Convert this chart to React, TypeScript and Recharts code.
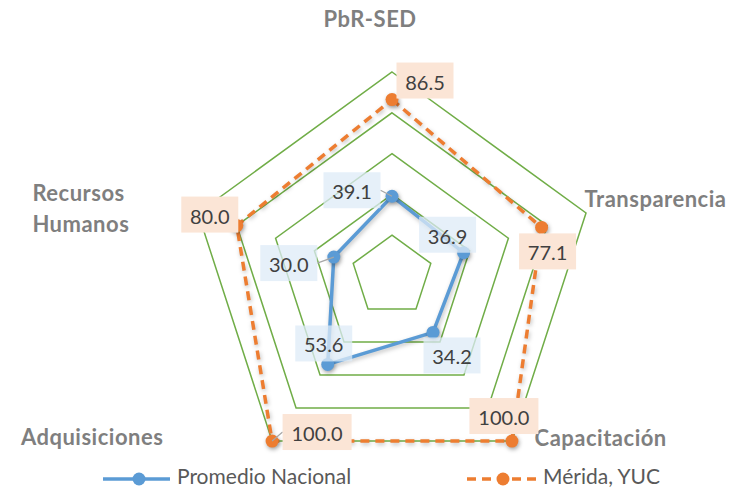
import React from "react";
import {
  RadarChart,
  Radar,
  PolarGrid,
  PolarAngleAxis,
  PolarRadiusAxis,
  LabelList,
  Legend,
} from "recharts";

const categories = ["PbR-SED", "Transparencia", "Capacitación", "Adquisiciones", "Recursos Humanos"];
const promedioNacional = [39.1, 36.9, 34.2, 53.6, 30.0];
const meridaYuc = [86.5, 77.1, 100.0, 100.0, 80.0];

const data = categories.map((name, i) => ({
  name,
  nacional: promedioNacional[i],
  merida: meridaYuc[i],
}));

const BLUE = "#5b9bd5";
const ORANGE = "#ed7d31";
const GRID = "#70ad47";
const FONT = "Lato, 'Open Sans', sans-serif";

// label box offsets relative to the point (by category index)
const NACIONAL_OFFSETS = [
  [-40, -6],
  [-16, -18],
  [19, 23],
  [-4, -21],
  [-45, 6],
];
const MERIDA_OFFSETS = [
  [33, -19],
  [6, 24],
  [-8, -25],
  [45, -9],
  [-27, -11],
];

// axis label placement relative to tick point
const TICK_POS: Record<string, { dx: number; dy: number; anchor: string }> = {
  "PbR-SED": { dx: -22, dy: -46, anchor: "middle" },
  Transparencia: { dx: -9, dy: -12, anchor: "start" },
  "Capacitación": { dx: 18, dy: -11, anchor: "start" },
  Adquisiciones: { dx: -104, dy: -12, anchor: "end" },
  "Recursos Humanos": { dx: -158, dy: -3, anchor: "start" },
};

function AxisTick(props: any) {
  const { x, y, payload } = props;
  const name: string = payload.value;
  const p = TICK_POS[name] ?? { dx: 0, dy: 0, anchor: "middle" };
  const lines = name === "Recursos Humanos" ? ["Recursos", "Humanos"] : [name];
  const lh = 31;
  const y0 = y + p.dy - ((lines.length - 1) * lh) / 2;
  return (
    <text
      textAnchor={p.anchor}
      fill="#7f7f7f"
      fontFamily={FONT}
      fontWeight={700}
      fontSize={22}
      letterSpacing={0.5}
      dominantBaseline="central"
    >
      {lines.map((l, i) => (
        <tspan key={l} x={x + p.dx} y={y0 + i * lh}>
          {l}
        </tspan>
      ))}
    </text>
  );
}

function makeLabel(offsets: number[][], bg: string, opacity: number) {
  return (props: any) => {
    const { x, y, value, index } = props;
    if (x == null || y == null) return null;
    const [dx, dy] = offsets[index] ?? [0, 0];
    const txt = Number(value).toFixed(1);
    const w = txt.length > 4 ? 69 : 57;
    const h = 36;
    const cx = x + dx;
    const cy = y + dy;
    const left = cx - w / 2;
    const right = cx + w / 2;
    let leader = null;
    if (x - right > 10) leader = <line x1={right} y1={cy} x2={x} y2={y} stroke="#a6a6a6" strokeWidth={1.2} />;
    else if (left - x > 10) leader = <line x1={left} y1={cy} x2={x} y2={y} stroke="#a6a6a6" strokeWidth={1.2} />;
    return (
      <g>
        {leader}
        <rect x={left} y={cy - h / 2} width={w} height={h} fill={bg} fillOpacity={opacity} />
        <text
          x={cx}
          y={cy + 1}
          textAnchor="middle"
          dominantBaseline="central"
          fontFamily={FONT}
          fontSize={20}
          fill="#404040"
        >
          {txt}
        </text>
      </g>
    );
  };
}

function makeDot(color: string) {
  return (props: any) => {
    const { cx, cy, index } = props;
    if (cx == null || cy == null) return null;
    return (
      <circle
        key={index}
        cx={cx}
        cy={cy}
        r={6.5}
        fill={color}
        stroke="none"
        style={{ filter: "drop-shadow(1px 2px 2px rgba(0,0,0,0.35))" }}
      />
    );
  };
}

function LegendContent() {
  return (
    <svg width={733} height={29} style={{ display: "block" }}>
      <line x1={103} x2={170} y1={18} y2={18} stroke={BLUE} strokeWidth={3.5} />
      <circle cx={139} cy={18} r={6.5} fill={BLUE} />
      <line x1={467} x2={536} y1={18} y2={18} stroke={ORANGE} strokeWidth={3.5} strokeDasharray="9 6" />
      <circle cx={503} cy={18} r={6.5} fill={ORANGE} />
      <text x={177} y={23} fill="#595959" fontFamily={FONT} fontSize={21}>
        Promedio Nacional
      </text>
      <text x={543} y={23} fill="#595959" fontFamily={FONT} fontSize={21}>
        Mérida, YUC
      </text>
    </svg>
  );
}

export default function App() {
  return (
    <div style={{ position: "absolute", left: 0, top: 0, width: 733, height: 490, background: "#fff" }}>
      <style>{`.recharts-radar-polygon path { filter: drop-shadow(1px 2px 2px rgba(0,0,0,0.25)); }`}</style>
      <RadarChart
        width={733}
        height={490}
        data={data}
        cx={392}
        cy={276}
        outerRadius={204}
        margin={{ top: 0, right: 0, bottom: 0, left: 0 }}
      >
        <PolarGrid gridType="polygon" radialLines={false} stroke={GRID} strokeWidth={1.5} />
        <PolarAngleAxis dataKey="name" tick={<AxisTick />} tickLine={false} axisLine={false} />
        <PolarRadiusAxis domain={[0, 100]} tickCount={6} tick={false} axisLine={false} />
        <Radar
          name="Promedio Nacional"
          dataKey="nacional"
          stroke={BLUE}
          strokeWidth={3.5}
          fill="none"
          fillOpacity={0}
          dot={makeDot(BLUE)}
          isAnimationActive={false}
        >
          <LabelList dataKey="nacional" content={makeLabel(NACIONAL_OFFSETS, "#deebf7", 0.75)} />
        </Radar>
        <Radar
          name="Mérida, YUC"
          dataKey="merida"
          stroke={ORANGE}
          strokeWidth={3.5}
          strokeDasharray="9 6"
          fill="none"
          fillOpacity={0}
          dot={makeDot(ORANGE)}
          isAnimationActive={false}
        >
          <LabelList dataKey="merida" content={makeLabel(MERIDA_OFFSETS, "#fbe5d6", 1)} />
        </Radar>
        <Legend
          verticalAlign="bottom"
          content={<LegendContent />}
          wrapperStyle={{ left: 0, top: 461, width: 733 }}
        />
      </RadarChart>
    </div>
  );
}
